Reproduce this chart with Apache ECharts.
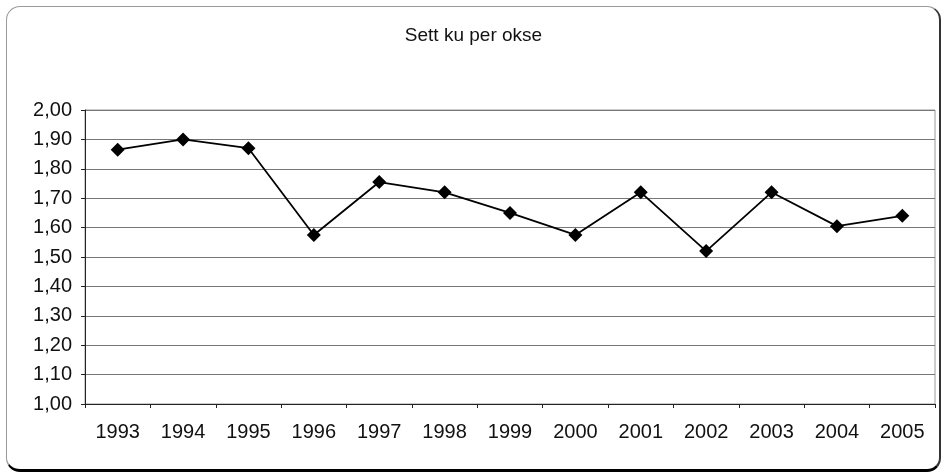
<!DOCTYPE html>
<html>
<head>
<meta charset="utf-8">
<script src="https://cdn.jsdelivr.net/npm/echarts@6/dist/echarts.min.js"></script>
<style>
  body { margin: 0; background: #fff; }
  .wrap { position: relative; width: 947px; height: 475px; }
  .frame {
    position: absolute;
    left: 6px; top: 6px; right: 6px; bottom: 3px;
    border: 1px solid #9a9a9a;
    border-bottom: 3px solid #000;
    border-right: 2px solid #333;
    border-radius: 14px;
  }
  #chart { position: absolute; left: 0; top: 0; width: 947px; height: 475px; }
</style>
</head>
<body>
<div class="wrap">
  <div class="frame"></div>
  <div id="chart"></div>
</div>
<script>
// år og verdier (sett ku per okse)
const years = ['1993', '1994', '1995', '1996', '1997', '1998', '1999',
  '2000', '2001', '2002', '2003', '2004', '2005'];
const kuPerOkse = [1.865, 1.90, 1.87, 1.575, 1.755, 1.72, 1.65,
  1.575, 1.72, 1.52, 1.72, 1.605, 1.64];
const yMin = 1.0;
const yMax = 2.0;
const yStep = 0.1;

const chart = echarts.init(document.getElementById('chart'));
chart.setOption({
  backgroundColor: 'transparent',
  animation: false,
  title: {
    text: 'Sett ku per okse',
    left: 'center',
    top: 21,
    textStyle: {
      fontFamily: 'Liberation Sans, Arial',
      fontWeight: 'normal',
      fontSize: 19,
      color: '#111',
    },
  },
  grid: {
    left: 85,
    right: 12,
    top: 110,
    bottom: 71,
    show: true,
    borderColor: '#999',
    borderWidth: 1,
    backgroundColor: 'transparent',
  },
  xAxis: {
    type: 'category',
    data: years,
    boundaryGap: true,
    axisLine: { lineStyle: { color: '#222', width: 1 } },
    axisTick: { show: true, length: 4, lineStyle: { color: '#222' } },
    axisLabel: {
      color: '#111',
      fontFamily: 'Liberation Sans, Arial',
      fontSize: 20,
      margin: 18,
    },
  },
  yAxis: {
    type: 'value',
    min: yMin,
    max: yMax,
    interval: yStep,
    axisLine: { show: true, lineStyle: { color: '#222', width: 1 } },
    axisTick: { show: true, length: 4, lineStyle: { color: '#222' } },
    splitLine: { lineStyle: { color: '#777', width: 1 } },
    axisLabel: {
      color: '#111',
      fontFamily: 'Liberation Sans, Arial',
      fontSize: 20,
      margin: 13,
      formatter: (v) => v.toFixed(2).replace('.', ','),
    },
  },
  series: [{
    type: 'line',
    data: kuPerOkse,
    symbol: 'diamond',
    symbolSize: 14,
    itemStyle: { color: '#000' },
    lineStyle: { color: '#000', width: 1.8 },
  }],
});
</script>
</body>
</html>
